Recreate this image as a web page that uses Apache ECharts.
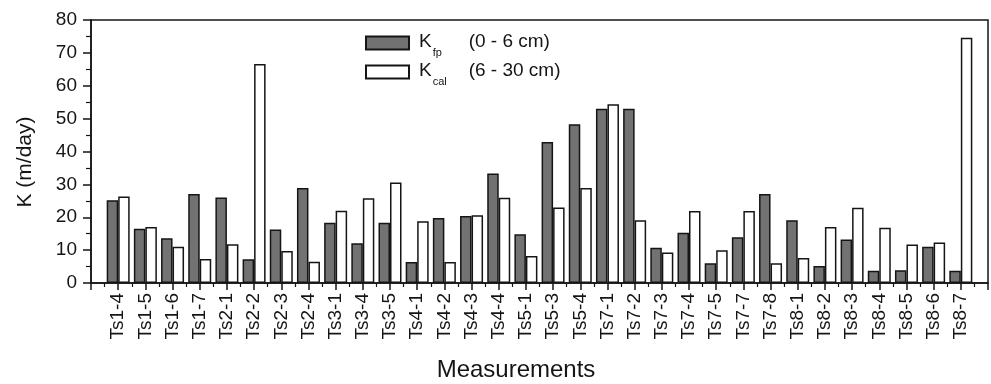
<!DOCTYPE html>
<html>
<head>
<meta charset="utf-8">
<script src="https://cdn.jsdelivr.net/npm/echarts@6/dist/echarts.min.js"></script>
<style>html,body{margin:0;padding:0;background:#fff;}#c{width:991px;height:384px;}</style>
</head>
<body>
<div id="c"></div>
<script>
var categories = ['Ts1-4','Ts1-5','Ts1-6','Ts1-7','Ts2-1','Ts2-2','Ts2-3','Ts2-4','Ts3-1','Ts3-4','Ts3-5','Ts4-1','Ts4-2','Ts4-3','Ts4-4','Ts5-1','Ts5-3','Ts5-4','Ts7-1','Ts7-2','Ts7-3','Ts7-4','Ts7-5','Ts7-7','Ts7-8','Ts8-1','Ts8-2','Ts8-3','Ts8-4','Ts8-5','Ts8-6','Ts8-7'];
var kfp = [25.2,16.5,13.6,27.1,26.0,7.2,16.3,28.9,18.3,12.1,18.3,6.4,19.8,20.4,33.3,14.8,42.9,48.3,53.0,53.0,10.7,15.3,6.0,13.9,27.1,19.1,5.2,13.2,3.7,3.9,11.0,3.7];
var kcal = [26.3,17.0,11.0,7.3,11.8,66.6,9.7,6.5,22.0,25.8,30.6,18.8,6.4,20.6,25.9,8.2,23.0,28.9,54.4,19.1,9.3,21.9,10.0,21.9,6.0,7.6,17.0,22.9,16.8,11.7,12.3,74.6];
var yTicks = [0,10,20,30,40,50,60,70,80];
var yName = 'K (m/day)';
var xName = 'Measurements';
var legendSub = {Kfp: 'fp', Kcal: 'cal'};
var legendRange = {Kfp: '(0 - 6 cm)', Kcal: '(6 - 30 cm)'};

var FONT = "'Liberation Sans', Arial, sans-serif";
var INK = '#151515';
function pairs(arr){ return arr.map(function(v,i){ return [i+1, v]; }); }

var chart = echarts.init(document.getElementById('c'), null, {renderer:'canvas'});
chart.setOption({
  animation: false,
  backgroundColor: '#fff',
  grid: {left: 91, right: 3, top: 20, bottom: 101, show: true, borderColor: INK, borderWidth: 1.5, backgroundColor: 'transparent'},
  legend: {
    orient: 'vertical', left: 365, top: 28, padding: 0, itemWidth: 43, itemHeight: 13, itemGap: -1,
    icon: 'rect', selectedMode: false,
    data: ['Kfp','Kcal'],
    formatter: function(n){ return '{k|K}{s|' + legendSub[n] + '}{t|' + legendRange[n] + '}'; },
    textStyle: {
      fontFamily: FONT, color: INK,
      rich: {
        k: {fontSize: 19, fontFamily: FONT, color: INK, lineHeight: 26, verticalAlign: 'top', padding: [2,0,0,5]},
        s: {fontSize: 11, fontFamily: FONT, color: INK, lineHeight: 13, padding: [19,0,0,1], width: 36},
        t: {fontSize: 19, fontFamily: FONT, color: INK, lineHeight: 26, verticalAlign: 'top', padding: [2,0,0,0]}
      }
    }
  },
  xAxis: {
    type: 'value', min: 0, max: 33, interval: 1,
    axisLine: {show: true, lineStyle: {color: INK, width: 1.5}},
    axisTick: {show: true, length: 7, lineStyle: {color: INK, width: 1.5}},
    minorTick: {show: true, splitNumber: 2, length: 4, lineStyle: {color: INK, width: 1.2}},
    splitLine: {show: false},
    axisLabel: {
      rotate: 90, margin: 10, fontSize: 19, fontFamily: FONT, color: INK,
      formatter: function(v){ return categories[v-1] || ''; }
    }
  },
  yAxis: {
    type: 'value', min: yTicks[0], max: yTicks[yTicks.length-1], interval: yTicks[1]-yTicks[0],
    axisLine: {show: true, lineStyle: {color: INK, width: 1.5}},
    axisTick: {show: true, length: 8, lineStyle: {color: INK, width: 1.5}},
    minorTick: {show: true, splitNumber: 2, length: 5, lineStyle: {color: INK, width: 1.2}},
    splitLine: {show: false},
    axisLabel: {margin: 14, fontSize: 19, fontFamily: FONT, color: INK}
  },
  graphic: [
    {type: 'text', rotation: Math.PI/2, position: [25, 162],
     style: {text: yName, fontSize: 21, fontFamily: FONT, fill: INK, textAlign: 'center', textVerticalAlign: 'middle'}},
    {type: 'text', position: [516, 370],
     style: {text: xName, fontSize: 24, fontFamily: FONT, fill: INK, textAlign: 'center', textVerticalAlign: 'middle'}}
  ],
  series: [
    {name: 'Kfp', type: 'bar', data: pairs(kfp), barWidth: 11.5, barGap: '0%',
     itemStyle: {color: '#727272', borderColor: INK, borderWidth: 1.5}},
    {name: 'Kcal', type: 'bar', data: pairs(kcal), barWidth: 11.5, barGap: '0%',
     itemStyle: {color: '#ffffff', borderColor: INK, borderWidth: 1.5}}
  ]
});
</script>
</body>
</html>
